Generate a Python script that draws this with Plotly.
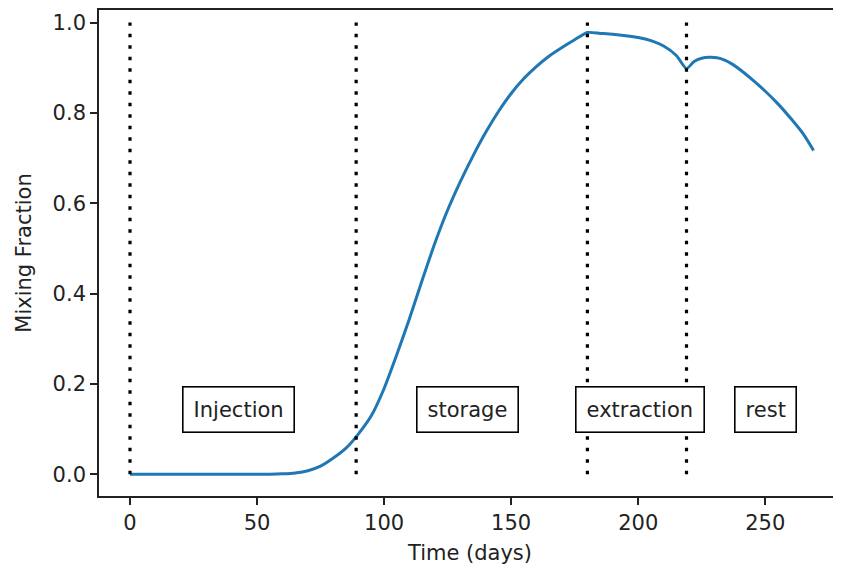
import plotly.graph_objects as go

# Curve data (time in days, mixing fraction)
days = [0, 10, 20, 30, 40, 50, 55, 60, 65, 70, 75, 80, 85, 89, 95, 100, 105, 110, 115,
        120, 125, 130, 135, 140, 145, 150, 155, 160, 165, 170, 175, 180, 185, 190, 195,
        200, 205, 210, 215, 219, 222, 225, 228, 231, 234, 237, 240, 245, 250, 255, 260, 265, 269]
mixing = [0.0, 0.0, 0.0, 0.0, 0.0, 0.0, 0.0, 0.001, 0.003, 0.008, 0.018, 0.036, 0.058, 0.083,
          0.13, 0.19, 0.265, 0.345, 0.43, 0.512, 0.585, 0.648, 0.705, 0.757, 0.803, 0.843, 0.876,
          0.903, 0.926, 0.945, 0.962, 0.978, 0.976, 0.974, 0.971, 0.967, 0.96, 0.948, 0.927,
          0.898, 0.914, 0.921, 0.923, 0.922, 0.917, 0.908, 0.896, 0.873, 0.848, 0.82, 0.788,
          0.753, 0.717]

# Phase boundaries (days)
boundaries = [0, 89, 180, 219]
boundary_y = [0.0, 1.0]

# Phase labels
phase_labels = ["Injection", "storage", "extraction", "rest"]
phase_x = [42.7, 132.7, 200.8, 250.0]
phase_y = [0.143, 0.143, 0.143, 0.143]

x_ticks = [0, 50, 100, 150, 200, 250]
y_ticks = [0.0, 0.2, 0.4, 0.6, 0.8, 1.0]
y_ticklabels = ["0.0", "0.2", "0.4", "0.6", "0.8", "1.0"]

FONT = "DejaVu Sans"
TXT = "#222222"
FS = 21

fig = go.Figure()
fig.add_trace(go.Scatter(x=days, y=mixing, mode="lines",
                         line=dict(color="#1f77b4", width=3, shape="spline", smoothing=0.6),
                         showlegend=False, hoverinfo="skip"))
for b in boundaries:
    fig.add_trace(go.Scatter(x=[b, b], y=boundary_y, mode="lines",
                             line=dict(color="black", width=3.2, dash="3.5px,8px"),
                             showlegend=False, hoverinfo="skip"))

for lab, xx, yy in zip(phase_labels, phase_x, phase_y):
    fig.add_annotation(x=xx, y=yy, text=lab, showarrow=False,
                       xanchor="center", yanchor="middle",
                       font=dict(family=FONT, size=FS, color=TXT),
                       bgcolor="white", bordercolor="black", borderwidth=1.6, borderpad=10)

# page body has an 8px margin: compensate so the plot area lands where it should
fig.update_layout(
    width=833, height=561,
    margin=dict(l=91, r=0, t=2, b=73),
    plot_bgcolor="white", paper_bgcolor="white",
    font=dict(family=FONT, size=FS, color=TXT),
    xaxis=dict(range=[-12.2, 279.8], tickvals=x_ticks, ticks="outside", ticklen=7,
               tickwidth=1.6, tickcolor="#222", showgrid=False, zeroline=False,
               showline=True, linecolor="#222", linewidth=1.6, mirror=True,
               title=dict(text="Time (days)", standoff=11,
                          font=dict(family=FONT, size=FS, color=TXT)),
               tickfont=dict(family=FONT, size=FS, color=TXT)),
    yaxis=dict(range=[-0.048, 1.0278], tickvals=y_ticks, ticktext=y_ticklabels,
               ticks="outside", ticklen=7, tickwidth=1.6, tickcolor="#222",
               showgrid=False, zeroline=False, showline=True, linecolor="#222",
               linewidth=1.6, mirror=False,
               title=dict(text="Mixing Fraction", standoff=15,
                          font=dict(family=FONT, size=FS, color=TXT)),
               tickfont=dict(family=FONT, size=FS, color=TXT)),
)

fig.write_html("out.html")
